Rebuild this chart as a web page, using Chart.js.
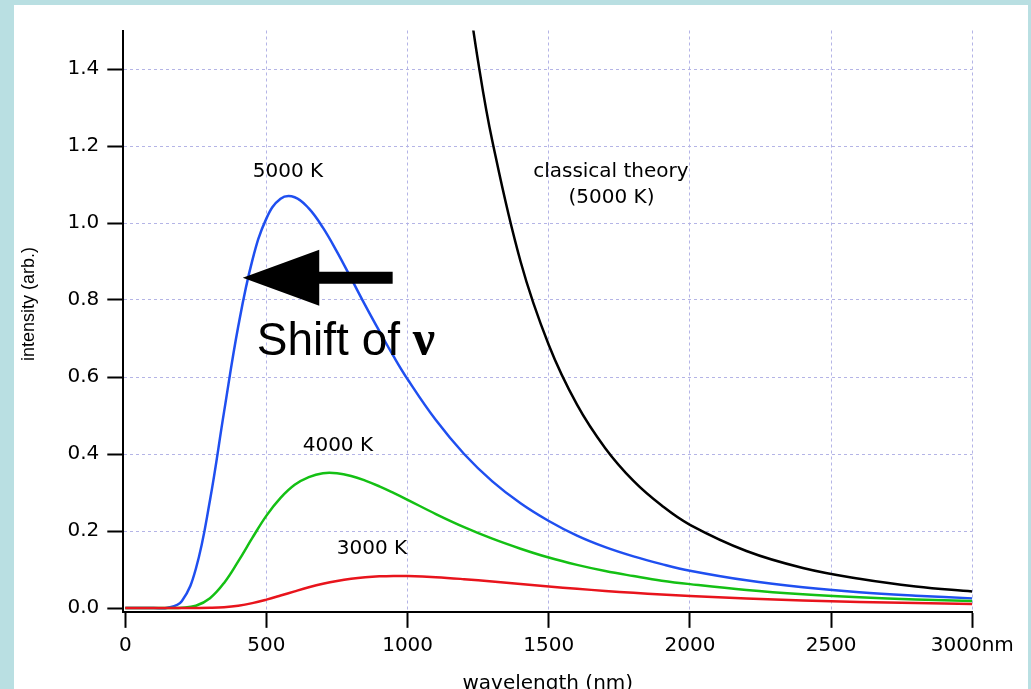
<!DOCTYPE html>
<html>
<head>
<meta charset="utf-8">
<script src="https://cdn.jsdelivr.net/npm/chart.js@4"></script>
<style>
  html, body { margin: 0; padding: 0; overflow: hidden; background: #b9dfe2; }
  #panel { position: absolute; left: 14px; top: 5px; width: 1014px; height: 695px; background: #fff; }
</style>
</head>
<body>
<div id="panel"><canvas id="planck" width="1014" height="695"></canvas></div>
<script>
// comprimentos de onda (nm) e intensidades
const wavelengths = [0, 100, 150, 200, 250, 300, 350, 400, 450, 500, 550, 600, 650, 700, 750, 800, 850, 900, 950, 1000,
    1100, 1200, 1300, 1400, 1500, 1600, 1700, 1800, 1900, 2000, 2200, 2400, 2600, 2800, 3000];
const i5000 = [0, 0, 0.0006, 0.0176, 0.102, 0.280, 0.510, 0.731, 0.903, 1.012, 1.063, 1.067, 1.038, 0.988, 0.925, 0.856, 0.786, 0.719, 0.654, 0.594,
    0.488, 0.400, 0.329, 0.272, 0.226, 0.188, 0.158, 0.134, 0.114, 0.097, 0.072, 0.054, 0.041, 0.032, 0.025];
const i4000 = [0, 0, 0, 0.0005, 0.0058, 0.0254, 0.0652, 0.121, 0.182, 0.240, 0.286, 0.320, 0.340, 0.350, 0.350, 0.343, 0.331, 0.316, 0.299, 0.281,
    0.244, 0.210, 0.180, 0.154, 0.131, 0.112, 0.096, 0.083, 0.071, 0.062, 0.047, 0.036, 0.028, 0.022, 0.018];
const i3000 = [0, 0, 0, 0, 0.00005, 0.0005, 0.0021, 0.0060, 0.0127, 0.0218, 0.0323, 0.0433, 0.0537, 0.0628, 0.0702, 0.0759, 0.0798, 0.0822, 0.0832, 0.0830,
    0.0800, 0.0749, 0.0687, 0.0622, 0.0559, 0.0499, 0.0444, 0.0394, 0.0350, 0.0311, 0.0246, 0.0196, 0.0157, 0.0127, 0.0104];

// teoria clássica (5000 K)
const classicalWavelengths = [1200, 1250, 1300, 1400, 1500, 1600, 1700, 1800, 1900, 2000, 2200, 2400, 2600, 2800, 3000];
const classical = [1.669, 1.418, 1.213, 0.900, 0.683, 0.528, 0.415, 0.330, 0.266, 0.216, 0.148, 0.104, 0.076, 0.056, 0.043];

const xTicks = [0, 500, 1000, 1500, 2000, 2500, 3000];
const yTicks = [0, 0.2, 0.4, 0.6, 0.8, 1.0, 1.2, 1.4];

const toPoints = (xs, ys) => xs.map((x, i) => ({ x: x, y: ys[i] }));
const gridColor = '#b4b4e6';
const tickFont = { family: 'DejaVu Sans', size: 20 };

// textos e seta desenhados sobre o gráfico
const notes = {
    id: 'notes',
    afterDatasetsDraw(chart) {
        const { ctx } = chart;
        const sx = chart.scales.x, sy = chart.scales.y;
        const px = v => sx.getPixelForValue(v), py = v => sy.getPixelForValue(v);
        ctx.save();
        ctx.fillStyle = '#000';
        ctx.font = '20px "DejaVu Sans"';
        ctx.textAlign = 'center';
        ctx.textBaseline = 'middle';
        ctx.fillText('5000 K', px(576), py(1.132));
        ctx.fillText('4000 K', px(753), py(0.421));
        ctx.fillText('3000 K', px(874), py(0.154));
        ctx.fillText('classical theory', px(1720), py(1.134));
        ctx.fillText('(5000 K)', px(1722), py(1.066));

        // seta
        const yc = py(0.858);
        ctx.beginPath();
        ctx.moveTo(px(416), yc);
        ctx.lineTo(px(687), yc - 28);
        ctx.lineTo(px(687), yc - 6);
        ctx.lineTo(px(947), yc - 6);
        ctx.lineTo(px(947), yc + 6);
        ctx.lineTo(px(687), yc + 6);
        ctx.lineTo(px(687), yc + 28);
        ctx.closePath();
        ctx.fill();

        // "Shift of ν"
        ctx.textAlign = 'left';
        ctx.textBaseline = 'alphabetic';
        ctx.font = '46px "Liberation Sans"';
        const label = 'Shift of ';
        const x0 = px(466), y0 = py(0.657);
        ctx.fillText(label, x0, y0);
        const w = ctx.measureText(label).width;
        ctx.font = 'bold 50px "Liberation Serif"';
        ctx.fillText('ν', x0 + w, y0);

        // título do eixo y
        ctx.font = '18px "Liberation Sans"';
        ctx.textAlign = 'center';
        ctx.textBaseline = 'middle';
        ctx.translate(15, 299);
        ctx.rotate(-Math.PI / 2);
        ctx.fillText('intensity (arb.)', 0, 0);
        ctx.restore();
    }
};

const line = (data, color) => ({
    data: data,
    borderColor: color,
    borderWidth: 2.5,
    pointRadius: 0,
    fill: false,
    tension: 0.4
});

new Chart(document.getElementById('planck').getContext('2d'), {
    type: 'line',
    data: {
        datasets: [
            line(toPoints(wavelengths, i3000), '#e8141c'),
            line(toPoints(wavelengths, i4000), '#14c014'),
            line(toPoints(wavelengths, i5000), '#1f4ff0'),
            line(toPoints(classicalWavelengths, classical), '#000000')
        ]
    },
    options: {
        responsive: false,
        animation: false,
        devicePixelRatio: 1,
        layout: { padding: { top: 25.5, right: 55.7, left: 0, bottom: 0 } },
        plugins: { legend: { display: false }, tooltip: { enabled: false } },
        scales: {
            x: {
                type: 'linear',
                min: -7,
                max: 3000,
                afterBuildTicks: s => { s.ticks = xTicks.map(v => ({ value: v })); },
                afterFit: s => { s.height = 88.15; },
                ticks: {
                    font: tickFont,
                    color: '#000',
                    padding: 6,
                    maxRotation: 0,
                    autoSkip: false,
                    callback: v => v === 3000 ? '3000nm' : String(v)
                },
                grid: {
                    color: c => (c.tick && c.tick.value === 0) ? 'rgba(0,0,0,0)' : gridColor,
                    lineWidth: 1,
                    tickColor: '#000',
                    tickLength: 16,
                    tickWidth: 2,
                    tickBorderDash: []
                },
                border: { color: '#000', width: 2, dash: [3, 3] },
                title: {
                    display: true,
                    text: 'wavelength (nm)',
                    color: '#000',
                    font: { family: 'DejaVu Sans', size: 20 },
                    padding: { top: 0, bottom: 4 }
                }
            },
            y: {
                min: -0.01,
                max: 1.5,
                afterBuildTicks: s => { s.ticks = yTicks.map(v => ({ value: v })); },
                afterFit: s => { s.width = 109.3; },
                ticks: {
                    font: tickFont,
                    color: '#000',
                    padding: 8,
                    callback: v => v.toFixed(1)
                },
                grid: {
                    color: c => (c.tick && c.tick.value === 0) ? 'rgba(0,0,0,0)' : gridColor,
                    lineWidth: 1,
                    tickColor: '#000',
                    tickLength: 16,
                    tickWidth: 2,
                    tickBorderDash: []
                },
                border: { color: '#000', width: 2, dash: [3, 3] }
            }
        }
    },
    plugins: [notes]
});
</script>
</body>
</html>
